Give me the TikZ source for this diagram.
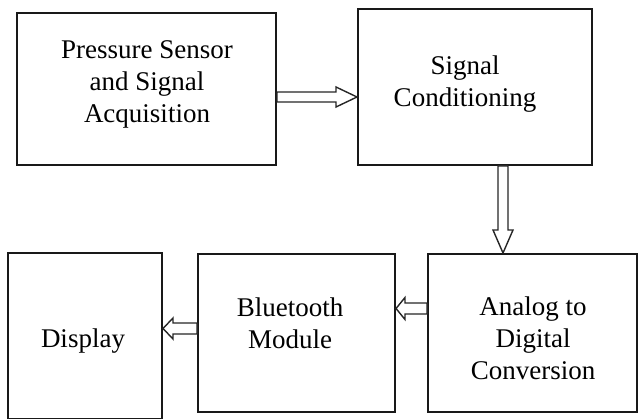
\documentclass[tikz,border=0pt]{standalone}
\usepackage{fontspec}
\setmainfont{Liberation Serif}
\usetikzlibrary{calc}

\tikzset{
  block/.style={draw=black!90, line width=2pt, rectangle, inner sep=0pt},
  caption/.style={align=center, inner sep=0pt, font=\fontsize{27}{32}\selectfont},
  hollow/.style={draw=black!85, line width=1.4pt, line join=miter, fill=white}
}

% hollow block arrow: #1 start, #2 tip, #3 half shaft width, #4 half head width, #5 head length
\newcommand\hollowarrow[5]{%
  \coordinate (hb) at ($(#2)!#5!(#1)$);
  \draw[hollow]
    ($(#1)!#3!90:(#2)$) -- ($(hb)!#3!-90:(#1)$) -- ($(hb)!#4!-90:(#1)$)
    -- (#2) -- ($(hb)!#4!90:(#1)$) -- ($(hb)!#3!90:(#1)$)
    -- ($(#1)!#3!-90:(#2)$) -- cycle;
}

\begin{document}
\begin{tikzpicture}[x=1pt, y=-1pt]
  \useasboundingbox (0,0) rectangle (639,419);

  % blocks
  \node[block, minimum width=259pt, minimum height=152pt] (b1) at (146.5,89) {};
  \node[block, minimum width=234pt, minimum height=156pt] (b2) at (475,87) {};
  \node[block, minimum width=209pt, minimum height=158pt] (b3) at (532.5,333) {};
  \node[block, minimum width=197pt, minimum height=158pt] (b4) at (296.5,333) {};
  \node[block, minimum width=154pt, minimum height=166pt] (b5) at (85,336) {};

  % block texts
  \node[caption] (t1) at (147,84) {Pressure Sensor\\and Signal\\Acquisition};
  \node[caption] (t2) at (465,84) {Signal\\Conditioning};
  \node[caption] (t3) at (533,338) {Analog to\\Digital\\Conversion};
  \node[caption] (t4) at (290,323) {Bluetooth\\Module};
  \node[caption] (t5) at (83,341) {Display};

  % arrow end points on the block borders
  \coordinate (a1s) at (b1.east |- 0,97);
  \coordinate (a1e) at (b2.west |- 0,97);
  \coordinate (a2s) at (b2.south -| 503,0);
  \coordinate (a2e) at (b3.north -| 503,0);
  \coordinate (a3s) at (b3.west |- 0,308.5);
  \coordinate (a3e) at (b4.east |- 0,308.5);
  \coordinate (a4s) at (b4.west |- 0,328.5);
  \coordinate (a4e) at (b5.east |- 0,328.5);

  % connectors
  \hollowarrow{a1s}{a1e}{5pt}{10pt}{21pt}
  \hollowarrow{a2s}{a2e}{5pt}{10pt}{23pt}
  \hollowarrow{a3s}{a3e}{5.5pt}{11pt}{9pt}
  \hollowarrow{a4s}{a4e}{5.5pt}{10.5pt}{10pt}
\end{tikzpicture}
\end{document}
